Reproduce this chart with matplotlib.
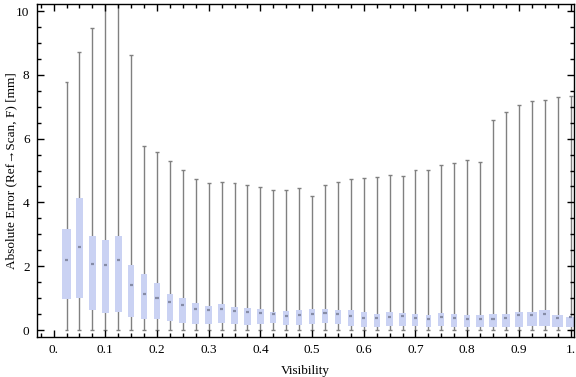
import numpy as np
import matplotlib
matplotlib.use("Agg")
from matplotlib import pyplot as plt
from matplotlib.ticker import MultipleLocator, FixedLocator

# Box-whisker summary per visibility bin
visibility = [0.025, 0.05, 0.075, 0.1, 0.125, 0.15, 0.175, 0.2, 0.225, 0.25,
              0.275, 0.3, 0.325, 0.35, 0.375, 0.4, 0.425, 0.45, 0.475, 0.5,
              0.525, 0.55, 0.575, 0.6, 0.625, 0.65, 0.675, 0.7, 0.725, 0.75,
              0.775, 0.8, 0.825, 0.85, 0.875, 0.9, 0.925, 0.95, 0.975, 1.0]
err_min = [0.0] * 40
err_q1 = [0.97, 1.01, 0.63, 0.54, 0.57, 0.42, 0.35, 0.34, 0.29, 0.23,
          0.20, 0.20, 0.21, 0.20, 0.17, 0.20, 0.21, 0.17, 0.15, 0.20,
          0.23, 0.20, 0.14, 0.11, 0.11, 0.14, 0.14, 0.14, 0.11, 0.14,
          0.11, 0.11, 0.11, 0.11, 0.11, 0.11, 0.14, 0.14, 0.11, 0.11]
err_median = [2.19, 2.59, 2.07, 2.05, 2.19, 1.42, 1.12, 1.01, 0.87, 0.78,
              0.67, 0.63, 0.65, 0.60, 0.57, 0.54, 0.49, 0.45, 0.47, 0.50,
              0.54, 0.49, 0.45, 0.39, 0.37, 0.41, 0.44, 0.37, 0.34, 0.41,
              0.37, 0.33, 0.33, 0.34, 0.38, 0.46, 0.47, 0.50, 0.37, 0.40]
err_q3 = [3.16, 4.14, 2.95, 2.82, 2.95, 2.03, 1.76, 1.46, 1.13, 0.99,
          0.85, 0.75, 0.82, 0.72, 0.69, 0.66, 0.57, 0.60, 0.63, 0.66,
          0.66, 0.63, 0.63, 0.57, 0.50, 0.56, 0.53, 0.50, 0.47, 0.53,
          0.50, 0.47, 0.47, 0.50, 0.50, 0.56, 0.56, 0.63, 0.47, 0.41]
err_max = [7.76, 8.70, 9.46, 12.0, 12.5, 8.61, 5.76, 5.57, 5.29, 5.01,
           4.74, 4.60, 4.63, 4.60, 4.54, 4.47, 4.38, 4.38, 4.44, 4.19,
           4.54, 4.63, 4.72, 4.75, 4.79, 4.85, 4.82, 5.01, 5.01, 5.16,
           5.23, 5.32, 5.26, 6.57, 6.82, 7.04, 7.17, 7.20, 7.29, 7.33]
# relative box widths (boxes are not all equally wide in the reference)
rel_width = [1.3, 1.15, 1.0, 1.0, 1.0, 0.95, 0.95, 0.95, 1.0, 1.0,
             1.0, 1.0, 0.95, 1.0, 1.0, 1.0, 0.95, 0.95, 0.9, 0.95,
             1.0, 1.0, 0.85, 0.85, 0.95, 1.05, 1.0, 0.9, 0.85, 0.9,
             0.9, 0.9, 1.1, 1.05, 1.1, 1.3, 1.5, 1.7, 1.7, 1.5]
xtick_vals = [0.0, 0.1, 0.2, 0.3, 0.4, 0.5, 0.6, 0.7, 0.8, 0.9, 1.0]
xtick_labels = ["0.", "0.1", "0.2", "0.3", "0.4", "0.5", "0.6", "0.7", "0.8", "0.9", "1."]

plt.rcParams['font.family'] = ['Liberation Serif', 'DejaVu Serif']

box_color = '#cad2f3'
whisk_color = '#808080'

fig = plt.figure(figsize=(5.76, 3.77), dpi=100)
ax = fig.add_axes([0.0634, 0.1061, 0.9331, 0.8833])

x = np.array(visibility)
w = 0.013 * np.array(rel_width)
cap = 0.0038

# whiskers from min to max, with small caps
ax.vlines(x, err_min, err_max, color=whisk_color, lw=1.0, zorder=1)
ax.hlines(err_max, x - cap, x + cap, color=whisk_color, lw=1.0, zorder=1)
ax.hlines(err_min, x - cap, x + cap, color=whisk_color, lw=1.0, zorder=1)

# interquartile boxes
q1 = np.array(err_q1)
q3 = np.array(err_q3)
ax.bar(x, q3 - q1, bottom=q1, width=w, color=box_color, edgecolor='none', zorder=2)

# medians
ax.hlines(err_median, x - 0.003, x + 0.003, color='#868ca6', lw=1.6, zorder=3)

ax.set_xlim(-0.033, 1.0066)
ax.set_ylim(-0.219, 10.22)

ax.xaxis.set_major_locator(FixedLocator(xtick_vals))
ax.set_xticklabels(xtick_labels)
ax.xaxis.set_minor_locator(MultipleLocator(0.025))
ax.yaxis.set_major_locator(MultipleLocator(2))
ax.yaxis.set_minor_locator(MultipleLocator(0.5))

ax.tick_params(which='both', direction='in', top=True, right=True,
               width=1.0, color='black', labelsize=9.5, pad=5)
ax.tick_params(which='major', length=5)
ax.tick_params(which='minor', length=3)
for s in ax.spines.values():
    s.set_linewidth(1.0)

ax.set_xlabel('Visibility', fontsize=9.5)
ax.set_ylabel('Absolute Error (Ref\u2192Scan, F) [mm]', fontsize=9.5)
ax.xaxis.set_label_coords(0.5, -0.085)
ax.yaxis.set_label_coords(-0.036, 0.5)

plt.savefig('out.png', dpi=100)
